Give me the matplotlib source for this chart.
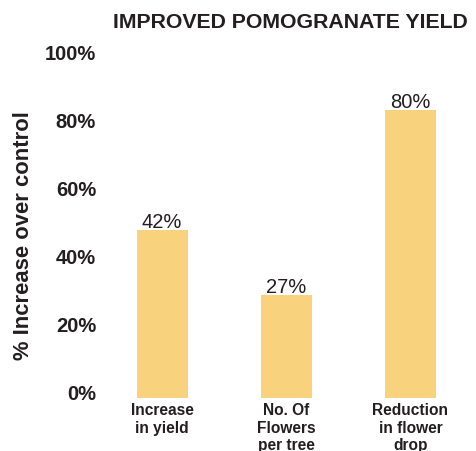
import matplotlib.pyplot as plt
import matplotlib.transforms as mtransforms

plt.rcParams['font.family'] = ['Liberation Sans', 'DejaVu Sans']

# data
categories = ["Increase\nin yield", "No. Of\nFlowers\nper tree", "Reduction\nin flower\ndrop"]
bar_heights = [49.3, 30.2, 84.5]
value_labels = ["42%", "27%", "80%"]
y_ticks = [0, 20, 40, 60, 80, 100]
y_tick_labels = ["0%", "20%", "40%", "60%", "80%", "100%"]

bar_color = "#F9D27E"
text_color = "#231F20"

fig = plt.figure(figsize=(4.77, 4.52), dpi=100)
W, H = 477, 452
ax = fig.add_axes([110 / W, (H - 399) / H, (470 - 110) / W, (399 - 58) / H])

x = list(range(len(categories)))
bars = ax.bar(x, bar_heights, width=0.41, color=bar_color)

# value labels above bars
for xi, h, lab in zip(x, bar_heights, value_labels):
    ax.annotate(lab, (xi, h), xytext=(0, 2.3), textcoords="offset points",
                ha="center", va="baseline", fontsize=14.5, color=text_color)

ax.set_xlim(-0.42, 2.48)
ax.set_ylim(0, 100)
ax.set_yticks(y_ticks)
ax.set_yticklabels(y_tick_labels, fontsize=14.5, fontweight="bold", color=text_color)
ax.set_xticks(x)
ax.set_xticklabels(categories, fontsize=11.2, fontweight="bold", color=text_color,
                   linespacing=1.2)
ax.tick_params(length=0, axis="y", pad=10)
ax.tick_params(length=0, axis="x", pad=3)

# tick labels sit a little above their gridline positions
shift = mtransforms.ScaledTranslation(0, 6 / 100, fig.dpi_scale_trans)
for lbl in ax.get_yticklabels():
    lbl.set_transform(lbl.get_transform() + shift)

for s in ax.spines.values():
    s.set_visible(False)

fig.text(290 / W, 1 - 22 / H, "IMPROVED POMOGRANATE YIELD", ha="center", va="center",
         fontsize=15.3, fontweight="bold", color=text_color)
fig.text(24 / W, 1 - 236 / H, "% Increase over control", rotation=90, ha="center",
         va="center", fontsize=15.8, fontweight="bold", color=text_color)

fig.savefig("out.png", dpi=100, facecolor="white")
